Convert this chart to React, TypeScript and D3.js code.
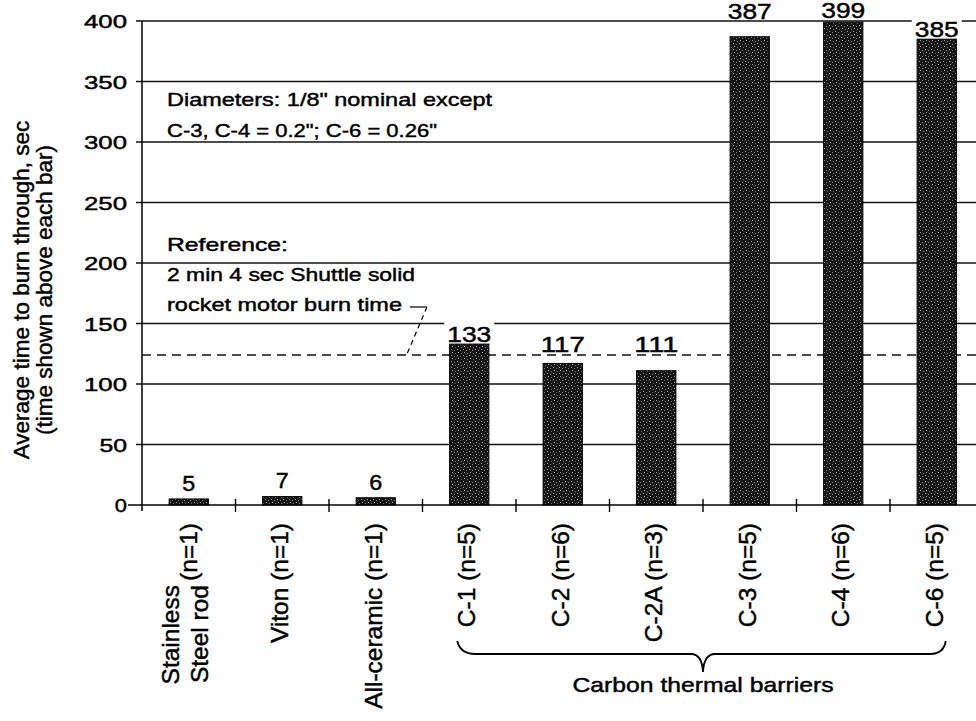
import React from "react";
import * as d3 from "d3";

// ---------- data ----------
const categories = [
  "Stainless Steel rod (n=1)",
  "Viton (n=1)",
  "All-ceramic (n=1)",
  "C-1 (n=5)",
  "C-2 (n=6)",
  "C-2A (n=3)",
  "C-3 (n=5)",
  "C-4 (n=6)",
  "C-6 (n=5)",
];
const burnTimes = [5, 7, 6, 133, 117, 111, 387, 399, 385];
const yTickValues = [0, 50, 100, 150, 200, 250, 300, 350, 400];
const referenceBurnTime = 124; // 2 min 4 sec
const noteLines = ['Diameters: 1/8" nominal except', 'C-3, C-4 = 0.2"; C-6 = 0.26"'];
const referenceLines = ["Reference:", "2 min 4 sec Shuttle solid", "rocket motor burn time"];
const yTitleLines = ["Average time to burn through, sec", "(time shown above each bar)"];
const groupLabel = "Carbon thermal barriers";
const groupFirst = "C-1 (n=5)";
const groupLast = "C-6 (n=5)";

// ---------- layout ----------
const W = 976;
const H = 721;
const X0 = 142;
const X1 = 983.5;
const Y0 = 505;
const Y1 = 21;
const LABEL_GAP = [8, 9, 8, 2, 11, 19, 18, 4, 2];
const NOTE_LEN = [325, 270];
const REF_LEN = [121, 248, 235];
const FONT = "'Liberation Sans', Arial, Helvetica, sans-serif";

const numLen = (s: string, dw: number, gap: number) => s.length * dw + (s.length - 1) * gap;

export default function App() {
  const x = d3
    .scaleBand<string>()
    .domain(categories)
    .range([X0, X1])
    .paddingInner(0.58)
    .paddingOuter(0.29);
  const y = d3.scaleLinear().domain([0, 400]).range([Y0, Y1]);
  const bw = x.bandwidth();
  const step = x.step();
  const cx = (c: string) => (x(c) as number) + bw / 2;

  const boundaries = categories.slice(1).map((c) => (x(c) as number) - (step - bw) / 2);

  const refY = y(referenceBurnTime);
  const bL = cx(groupFirst) - 12;
  const bR = cx(groupLast) + 9;
  const mid = (cx(groupFirst) + cx(groupLast)) / 2;
  const yTop = 641;
  const yLine = 654;
  const yTip = 672;
  const bracePath = `M${bL},${yTop} Q${bL + 3},${yLine} ${bL + 18},${yLine} L${mid - 12},${yLine} Q${mid - 1},${yLine} ${mid},${yTip} Q${mid + 1},${yLine} ${mid + 12},${yLine} L${bR - 16},${yLine} Q${bR - 2},${yLine} ${bR},${yTop}`;

  const textStyle = { fontFamily: FONT, fill: "#000", stroke: "#000", strokeWidth: 0.45 } as const;

  return (
    <svg
      width={W}
      height={H}
      style={{ position: "absolute", left: 0, top: 0, background: "#fff" }}
      xmlns="http://www.w3.org/2000/svg"
    >
      <defs>
        <pattern id="stipple" width="6" height="6" patternUnits="userSpaceOnUse">
          <rect width="6" height="6" fill="#151515" />
          <rect x="1" y="1" width="1" height="1" fill="#9a9a9a" />
          <rect x="4" y="2" width="1" height="1" fill="#7a7a7a" />
          <rect x="2" y="4" width="1" height="1" fill="#a5a5a5" />
          <rect x="5" y="5" width="1" height="1" fill="#6a6a6a" />
        </pattern>
      </defs>
      <rect width={W} height={H} fill="#fff" />

      {/* gridlines */}
      {yTickValues
        .filter((v) => v > 0)
        .map((v) => (
          <line key={"g" + v} x1={136} x2={W} y1={y(v)} y2={y(v)} stroke="#111" strokeWidth={1.4} />
        ))}

      {/* reference dashed line */}
      <line x1={X0} x2={W} y1={refY} y2={refY} stroke="#111" strokeWidth={1.4} strokeDasharray="9,6" />

      {/* axes */}
      <line x1={X0} x2={X0} y1={Y1} y2={Y0 + 6} stroke="#000" strokeWidth={1.5} />
      <line x1={128} x2={W} y1={Y0} y2={Y0} stroke="#000" strokeWidth={1.5} />
      {boundaries.map((b, i) => (
        <line key={"t" + i} x1={b} x2={b} y1={Y0 - 6} y2={Y0 + 7} stroke="#000" strokeWidth={1.4} />
      ))}

      {/* y tick labels */}
      {yTickValues.map((v) => {
        const s = String(v);
        return (
          <text
            key={"yl" + v}
            x={127}
            y={y(v) + 7}
            textAnchor="end"
            fontSize={18.5}
            textLength={numLen(s, 12.2, 3.2)}
            lengthAdjust="spacingAndGlyphs"
            style={textStyle}
          >
            {s}
          </text>
        );
      })}

      {/* bars */}
      {categories.map((c, i) => (
        <rect
          key={"b" + c}
          x={x(c)}
          y={y(burnTimes[i])}
          width={bw}
          height={Y0 - y(burnTimes[i])}
          fill="url(#stipple)"
          stroke="#000"
          strokeWidth={1}
        />
      ))}

      {/* value labels */}
      {categories.map((c, i) => {
        const s = String(burnTimes[i]);
        const base = y(burnTimes[i]) - LABEL_GAP[i];
        const len = numLen(s, 13, 2.5);
        return (
          <g key={"v" + c}>
            <rect x={cx(c) - len / 2 - 3} y={base - 21} width={len + 6} height={22} fill="#fff" />
            <text
              x={cx(c)}
              y={base}
              textAnchor="middle"
              fontSize={21.5}
              textLength={len}
              lengthAdjust="spacingAndGlyphs"
              style={textStyle}
            >
              {s}
            </text>
          </g>
        );
      })}

      {/* annotations */}
      {noteLines.map((t, i) => (
        <text
          key={"n" + i}
          x={167}
          y={106 + i * 31}
          fontSize={19}
          textLength={NOTE_LEN[i]}
          lengthAdjust="spacingAndGlyphs"
          style={textStyle}
        >
          {t}
        </text>
      ))}
      {referenceLines.map((t, i) => (
        <text
          key={"r" + i}
          x={167}
          y={251 + i * 30}
          fontSize={19}
          textLength={REF_LEN[i]}
          lengthAdjust="spacingAndGlyphs"
          style={textStyle}
        >
          {t}
        </text>
      ))}
      {/* leader to reference line */}
      <line x1={410} x2={427} y1={307} y2={307} stroke="#000" strokeWidth={1.2} />
      <line x1={427} x2={407} y1={307} y2={refY - 1} stroke="#000" strokeWidth={1.2} strokeDasharray="5,4" />

      {/* x category labels */}
      {categories.map((c, i) => {
        const cc = cx(c);
        if (i === 0) {
          return (
            <g key={"xl" + c}>
              <text transform={`translate(${cc - 10},585) rotate(-90)`} textAnchor="end" fontSize={24.5} style={textStyle}>
                Stainless
              </text>
              <text transform={`translate(${cc + 19},585) rotate(-90)`} textAnchor="end" fontSize={24.5} style={textStyle}>
                Steel rod
              </text>
              <text transform={`translate(${cc + 8},523) rotate(-90)`} textAnchor="end" fontSize={24.5} style={textStyle}>
                (n=1)
              </text>
            </g>
          );
        }
        return (
          <text
            key={"xl" + c}
            transform={`translate(${cc + 6},523) rotate(-90)`}
            textAnchor="end"
            fontSize={24.5}
            style={textStyle}
          >
            {c}
          </text>
        );
      })}

      {/* brace + group label */}
      <path d={bracePath} fill="none" stroke="#000" strokeWidth={1.8} />
      <text
        x={mid}
        y={692}
        textAnchor="middle"
        fontSize={21}
        textLength={261}
        lengthAdjust="spacingAndGlyphs"
        style={textStyle}
      >
        {groupLabel}
      </text>

      {/* y axis title */}
      <g transform="translate(0,290)">
        {yTitleLines.map((t, i) => (
          <text
            key={"yt" + i}
            transform={`translate(${29 + i * 23},0) rotate(-90)`}
            textAnchor="middle"
            fontSize={22.5}
            style={textStyle}
          >
            {t}
          </text>
        ))}
      </g>
    </svg>
  );
}
